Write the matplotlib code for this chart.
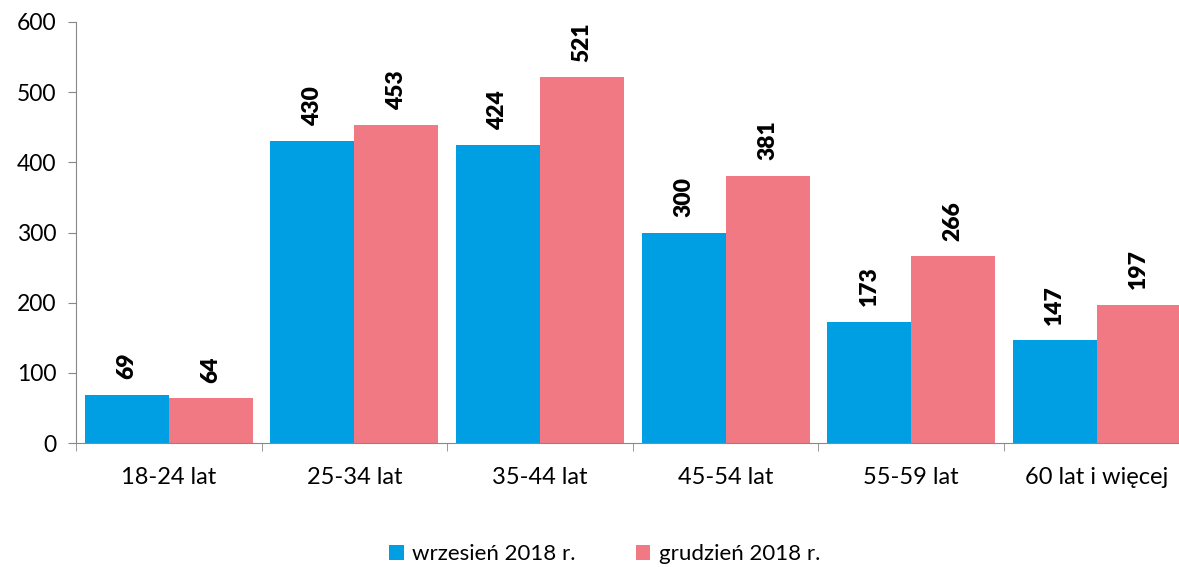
import matplotlib
matplotlib.use("Agg")
import matplotlib.pyplot as plt
import numpy as np

categories = ["18-24 lat", "25-34 lat", "35-44 lat", "45-54 lat", "55-59 lat", "60 lat i więcej"]
series_names = ["wrzesień 2018 r.", "grudzień 2018 r."]
wrzesien = [69, 430, 424, 300, 173, 147]
grudzien = [64, 453, 521, 381, 266, 197]
yticks = [0, 100, 200, 300, 400, 500, 600]

colors = ["#009FE3", "#F07983"]
plt.rcParams['font.family'] = ['Lato', 'DejaVu Sans']

fig = plt.figure(figsize=(11.79, 5.67), dpi=100)
ax = fig.add_axes([76/1179, 1-443/567, (1189.6-76)/1179, (443-22)/567])

x = np.arange(len(categories))
w = 0.4527
for vals, off, c, name in [(wrzesien, -w/2, colors[0], series_names[0]), (grudzien, w/2, colors[1], series_names[1])]:
    ax.bar(x + off, vals, width=w, color=c, label=name)
    for xi, v in zip(x + off, vals):
        ax.annotate(str(v), (xi, v), xytext=(0, 11), textcoords="offset points",
                    rotation=90, ha="center", va="bottom", fontsize=16.5, fontweight="heavy")

ax.set_xlim(-0.5, len(categories) - 0.5)
ax.set_ylim(0, 600)
ax.set_yticks(yticks)
ax.set_yticklabels([str(t) for t in yticks], fontsize=16.5)
ax.set_xticks(x)
ax.set_xticklabels(categories, fontsize=17)
ax.tick_params(axis='x', length=0, pad=17)
ax.set_xticks(np.arange(-0.5, len(categories) + 0.5, 1), minor=True)
ax.tick_params(axis='x', which='minor', length=6, color="#888888", direction='out')
ax.tick_params(axis='y', length=6, color="#888888", pad=8)
for s in ["top", "right"]:
    ax.spines[s].set_visible(False)
for s in ["left", "bottom"]:
    ax.spines[s].set_color("#888888")

fig.legend(loc="lower center", bbox_to_anchor=(0.513, -0.03), ncol=2, frameon=False,
           fontsize=16, handlelength=0.65, handleheight=0.65, handletextpad=0.4, columnspacing=2.7)

fig.savefig("out.png", dpi=100)
